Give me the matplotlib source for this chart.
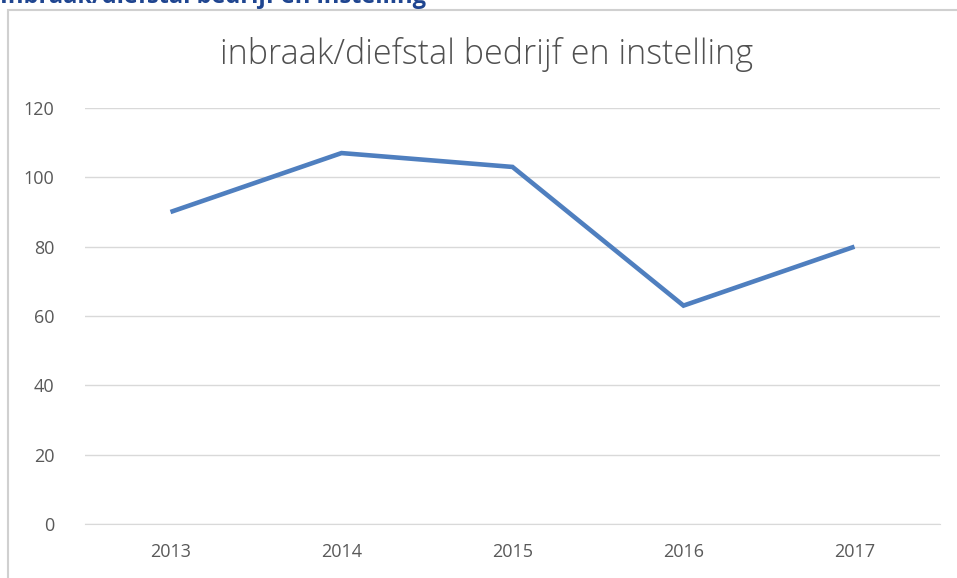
import matplotlib
matplotlib.use("Agg")
import matplotlib.pyplot as plt
from matplotlib.patches import Rectangle

years = ["2013", "2014", "2015", "2016", "2017"]
values = [90, 107, 103, 63, 80]
yticks = [0, 20, 40, 60, 80, 100, 120]
title = "inbraak/diefstal bedrijf en instelling"
heading = "Inbraak/diefstal bedrijf en instelling"

fig = plt.figure(figsize=(9.57, 5.78), dpi=100)
fig.patch.set_facecolor("white")

# outer chart frame
fig.patches.append(Rectangle((8/957, -0.05), 1.0, 1 - 10/578 + 0.05, transform=fig.transFigure,
                             fill=False, edgecolor="#d0d0d0", linewidth=1.5))
# heading above the chart, cut by the top edge as in the reference
fig.text(0.0, 1.0 + 0.006, heading, color="#1f4590",
         fontsize=17, fontweight="bold", family="Open Sans", ha="left", va="center")

ax = fig.add_axes([85/957, 1 - 524/578, (940 - 85)/957, (524 - 108)/578])
x = list(range(len(years)))
ax.plot(x, values, color="#4f7fbf", linewidth=3.3, solid_joinstyle="miter", solid_capstyle="butt")
ax.set_xlim(-0.5, len(years) - 0.5)
ax.set_ylim(0, 120)
ax.set_yticks(yticks)
ax.set_xticks(x)
ax.set_xticklabels(years)
ax.grid(axis="y", color="#d9d9d9", linewidth=1)
ax.set_axisbelow(True)
for s in ["top", "right", "left"]:
    ax.spines[s].set_visible(False)
ax.spines["bottom"].set_color("#d9d9d9")
ax.tick_params(length=0, colors="#595959", pad=14)
ax.tick_params(axis="y", pad=22)
for lbl in ax.get_xticklabels() + ax.get_yticklabels():
    lbl.set_family("Open Sans")
    lbl.set_fontsize(13)

fig.text(487/957, 1 - 55/578, title, ha="center", va="center", fontsize=24.6,
         color="#505050", family="Open Sans", fontweight="light")

fig.savefig("out.png", dpi=100)
